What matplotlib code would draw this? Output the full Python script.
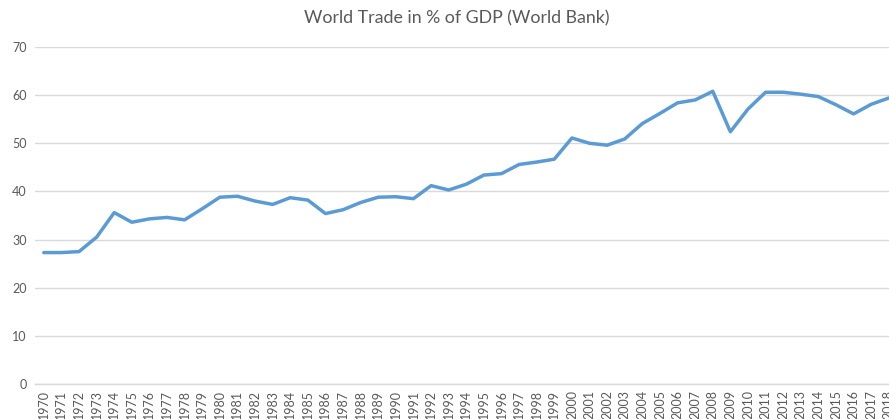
import matplotlib
matplotlib.use("Agg")
import matplotlib.pyplot as plt

years = list(range(1970, 2019))
trade_pct_gdp = [
    27.3, 27.3, 27.5, 30.5, 35.6, 33.6, 34.3, 34.6, 34.1, 36.4,
    38.8, 39.0, 38.0, 37.3, 38.7, 38.2, 35.4, 36.2, 37.7, 38.8,
    38.9, 38.5, 41.2, 40.3, 41.5, 43.4, 43.7, 45.6, 46.1, 46.7,
    51.1, 50.0, 49.6, 50.9, 54.1, 56.2, 58.4, 59.0, 60.8, 52.4,
    57.1, 60.6, 60.6, 60.2, 59.7, 58.0, 56.1, 58.1, 59.4,
]
y_ticks = [0, 10, 20, 30, 40, 50, 60, 70]
title = "World Trade in % of GDP (World Bank)"

plt.rcParams["font.family"] = ["Lato", "DejaVu Sans"]
text_color = "#595959"

fig = plt.figure(figsize=(8.89, 4.19), dpi=100)
W, H = 889, 419
left_px, right_px = 35, 897.6
bottom_px, top_px = 384, 47
ax = fig.add_axes([left_px / W, 1 - bottom_px / H,
                   (right_px - left_px) / W, (bottom_px - top_px) / H])

x = list(range(len(years)))
ax.plot(x, trade_pct_gdp, color="#5B9BD5", linewidth=2.5,
        solid_joinstyle="round", solid_capstyle="round", zorder=3)

ax.set_xlim(-0.5, len(years) - 0.5)
ax.set_ylim(0, 70)
ax.set_yticks(y_ticks)
ax.set_yticklabels([str(v) for v in y_ticks], color=text_color, fontsize=9)
ax.set_xticks(x)
ax.set_xticklabels([str(y) for y in years], rotation=90, color=text_color,
                   fontsize=9)
ax.tick_params(axis="both", length=0, pad=6)
ax.tick_params(axis="x", pad=4)

ax.grid(axis="y", color="#D9D9D9", linewidth=1)
ax.set_axisbelow(True)
for side in ["top", "right", "left"]:
    ax.spines[side].set_visible(False)
ax.spines["bottom"].set_color("#D9D9D9")
ax.spines["bottom"].set_linewidth(1)

fig.text(457 / W, 1 - 18 / H, title, ha="center", va="center",
         fontsize=12.8, color=text_color)

fig.savefig("out.png", dpi=100)
